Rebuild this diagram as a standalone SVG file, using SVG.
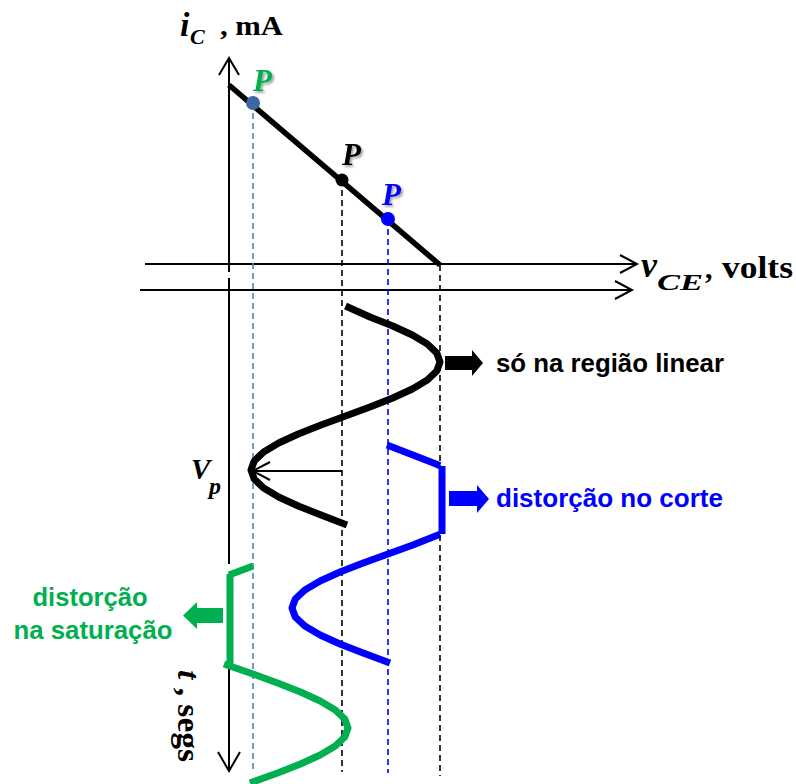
<svg xmlns="http://www.w3.org/2000/svg" width="796" height="784" viewBox="0 0 796 784">
<defs>
<style>
.ax{stroke:#000;stroke-width:2;fill:none}
.dk{stroke:#000;stroke-width:1.6;stroke-dasharray:6 4;fill:none}
.db{stroke:#0000FF;stroke-width:1.6;stroke-dasharray:6 4;fill:none}
.ds{stroke:#4F81BD;stroke-width:1.6;stroke-dasharray:6 4;fill:none}
.wv{fill:none;stroke-width:7;stroke-linejoin:round;stroke-linecap:butt}
.sf{font-family:"Liberation Serif","Times New Roman",serif;font-weight:bold}
.it{font-style:italic}
.ss{font-family:"Liberation Sans",Arial,sans-serif;font-weight:bold;font-size:25px}
</style>
<filter id="sh" x="-30%" y="-30%" width="160%" height="160%">
<feDropShadow dx="2" dy="2" stdDeviation="1.2" flood-color="#000" flood-opacity="0.35"/>
</filter>
</defs>
<rect width="796" height="784" fill="#fff"/>

<g id="axes">
<line class="ax" x1="229" y1="58" x2="229" y2="272"/>
<polyline class="ax" points="219,75 229,58 239,75"/>
<line class="ax" x1="145" y1="264" x2="637" y2="264"/>
<polyline class="ax" points="620,255 637,264 620,273"/>
<line class="ax" x1="140" y1="290" x2="632" y2="290"/>
<polyline class="ax" points="615,281 632,290 615,299"/>
<line class="ax" x1="229" y1="278" x2="229" y2="564"/>
<line class="ax" x1="229" y1="668" x2="229" y2="771"/>
<polyline class="ax" points="218,752 229,771 240,752"/>
</g>

<g id="connectors">
<line class="ds" x1="253" y1="103" x2="253" y2="770"/>
<line class="dk" x1="342" y1="180" x2="342" y2="772"/>
<line class="db" x1="388" y1="219" x2="388" y2="773"/>
<line class="dk" x1="440" y1="265" x2="440" y2="776"/>
<line class="ax" x1="342" y1="471" x2="253" y2="471"/>
<polyline class="ax" points="270,462 253,471 270,480"/>
</g>

<g id="load-line">
<line x1="229" y1="85" x2="440" y2="265" stroke="#000" stroke-width="5.5"/>
</g>

<g id="point-sat">
<circle cx="253" cy="103" r="7" fill="#3B67A3"/>
<text class="sf it" x="253" y="91" font-size="31" fill="#00B050" filter="url(#sh)">P</text>
</g>
<g id="point-mid">
<circle cx="342" cy="180" r="6.5" fill="#000"/>
<text class="sf it" x="342" y="165" font-size="31" fill="#000" filter="url(#sh)">P</text>
</g>
<g id="point-cut">
<circle cx="388" cy="219" r="7" fill="#0000FF"/>
<text class="sf it" x="382" y="205" font-size="31" fill="#0000FF" filter="url(#sh)">P</text>
</g>

<g id="label-ic">
<text class="sf it" x="180" y="36" font-size="34">i</text>
<text class="sf it" x="190" y="44" font-size="22">C</text>
<text class="sf" x="220" y="35" font-size="28" textLength="63" lengthAdjust="spacingAndGlyphs">, mA</text>
</g>

<g id="label-vce">
<text class="sf it" x="641" y="277" font-size="36">v</text>
<text class="sf it" x="657" y="290" font-size="24" textLength="46" lengthAdjust="spacingAndGlyphs">CE</text>
<text class="sf" x="705" y="278" font-size="30">,</text>
<text class="sf" x="722" y="278" font-size="31" textLength="71" lengthAdjust="spacingAndGlyphs">volts</text>
</g>

<g id="label-t">
<text class="sf" transform="translate(178,670) rotate(90)" font-size="32" textLength="92" lengthAdjust="spacingAndGlyphs"><tspan class="it">t</tspan> , segs</text>
</g>

<g id="wave-linear">
<path class="wv" stroke="#000" d="M345.5,306 L369.96,317 L392.75,326 L412.32,335 L427.34,344 L436.78,353 L440,362 L436.78,371 L427.34,380 L412.32,389 L392.75,398 L369.96,407 L345.5,416 L321.04,425 L298.25,434 L278.68,443 L263.66,452 L254.22,461 L251,470 L254.22,479 L263.66,488 L278.68,497 L298.25,506 L321.04,515 L347,525"/>
<polygon points="445,356 472,356 472,350 483,363 472,376 472,370 445,370" fill="#000"/>
<text class="ss" x="496" y="372" textLength="228" lengthAdjust="spacingAndGlyphs">só na região linear</text>
</g>

<g id="label-vp">
<text class="sf it" x="191" y="479" font-size="29">V</text>
<text class="sf it" x="209" y="494" font-size="24">p</text>
</g>

<g id="wave-cut">
<path class="wv" stroke="#0000FF" d="M387,445 L412.84,455 L436,464 L440,465.7"/>
<line x1="442" y1="466" x2="442" y2="534" stroke="#0000FF" stroke-width="7"/>
<path class="wv" stroke="#0000FF" d="M440,534.3 L412.84,545 L388,554 L363.16,563 L340,572 L320.12,581 L304.86,590 L295.27,599 L292,608 L295.27,617 L304.86,626 L320.12,635 L340,644 L363.16,653 L390,663"/>
<polygon points="449,491 477,491 477,485 489,499 477,513 477,506 449,506" fill="#0000FF"/>
<text class="ss" x="496" y="507" fill="#0000FF" textLength="227" lengthAdjust="spacingAndGlyphs">distorção no corte</text>
</g>

<g id="wave-sat">
<path class="wv" stroke="#00B050" d="M253,566 L229,575"/>
<line x1="230" y1="574" x2="230" y2="666" stroke="#00B050" stroke-width="7"/>
<path class="wv" stroke="#00B050" d="M224,664 L253,674 L277.59,683 L300.5,692 L320.17,701 L335.27,710 L344.76,719 L348,728 L344.76,737 L335.27,746 L320.17,755 L300.5,764 L277.59,773 L250,783"/>
<polygon points="223,608 197,608 197,602 183,615.5 197,629 197,623 223,623" fill="#00B050"/>
<text class="ss" x="90" y="606" fill="#00B050" text-anchor="middle" textLength="115" lengthAdjust="spacingAndGlyphs">distorção</text>
<text class="ss" x="93" y="639" fill="#00B050" text-anchor="middle" textLength="159" lengthAdjust="spacingAndGlyphs">na saturação</text>
</g>
</svg>
